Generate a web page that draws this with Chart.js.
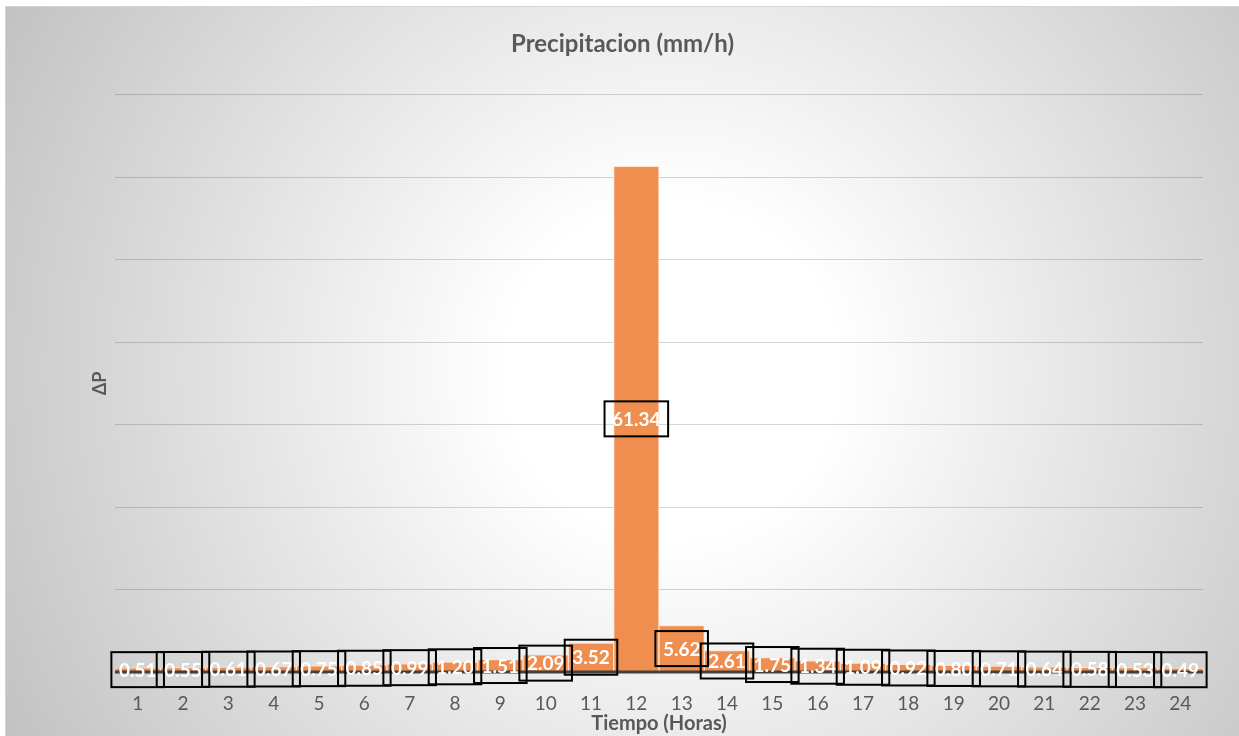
<!DOCTYPE html>
<html>
<head>
<meta charset="utf-8">
<style>
  html, body { margin: 0; padding: 0; background: #fff; }
  #wrap {
    position: absolute; left: 5px; top: 6px;
    width: 1233px; height: 729px;
    border: 1px solid #d4d4d4;
    background: radial-gradient(circle farthest-corner at 54% 50%, #ffffff 0%, #ffffff 22%, #c2c2c2 100%);
  }
  canvas { display: block; }
</style>
</head>
<body>
<div id="wrap">
  <canvas id="precipChart" width="1233" height="729"></canvas>
</div>

<script src="https://cdn.jsdelivr.net/npm/chart.js"></script>
<script>
// horas y precipitacion (mm/h)
const horas = ['1','2','3','4','5','6','7','8','9','10','11','12','13','14','15','16','17','18','19','20','21','22','23','24'];
const precip = [0.51, 0.55, 0.61, 0.67, 0.75, 0.85, 0.99, 1.20, 1.51, 2.09, 3.52, 61.34,
                5.62, 2.61, 1.75, 1.34, 1.09, 0.92, 0.80, 0.71, 0.64, 0.58, 0.53, 0.49];
const yMax = 70;
const yStep = 10;

const FONT = 'Lato';

// baseline + boxed labels in the middle of each bar
const boxLabels = {
  id: 'boxLabels',
  afterDatasetsDraw(chart) {
    const { ctx, chartArea, scales } = chart;
    const y0 = scales.y.getPixelForValue(0);
    ctx.save();
    ctx.strokeStyle = '#404040';
    ctx.lineWidth = 3;
    ctx.beginPath();
    ctx.moveTo(chartArea.left, y0);
    ctx.lineTo(chartArea.right, y0);
    ctx.stroke();

    ctx.font = 'bold 19px ' + FONT;
    ctx.textAlign = 'center';
    ctx.textBaseline = 'middle';
    const meta = chart.getDatasetMeta(0);
    meta.data.forEach((bar, i) => {
      const txt = precip[i].toFixed(2);
      const cy = (bar.y + bar.base) / 2;
      const w = ctx.measureText(txt).width + 15;
      const h = 35;
      ctx.fillStyle = '#ffffff';
      ctx.fillText(txt, bar.x, cy + 1);
      ctx.strokeStyle = '#000000';
      ctx.lineWidth = 2;
      ctx.strokeRect(bar.x - w / 2, cy - h / 2, w, h);
    });
    ctx.restore();
  }
};

const ctx = document.getElementById('precipChart').getContext('2d');
new Chart(ctx, {
  type: 'bar',
  data: {
    labels: horas,
    datasets: [{
      data: precip,
      backgroundColor: '#ef8e4e',
      borderColor: 'rgba(255,225,205,0.9)',
      borderWidth: 1,
      barPercentage: 1,
      categoryPercentage: 1
    }]
  },
  plugins: [boxLabels],
  options: {
    responsive: false,
    animation: false,
    devicePixelRatio: 1,
    plugins: {
      legend: { display: false },
      tooltip: { enabled: false },
      title: {
        display: true,
        text: 'Precipitacion (mm/h)',
        color: '#595959',
        font: { family: FONT, size: 24, weight: 'bold', lineHeight: 1.2 },
        padding: { top: 23, bottom: 36 }
      }
    },
    scales: {
      x: {
        grid: { display: false, drawTicks: false },
        border: { display: false },
        ticks: {
          color: '#595959',
          font: { family: FONT, size: 19 },
          padding: 20,
          maxRotation: 0
        },
        title: {
          display: true,
          text: 'Tiempo (Horas)',
          color: '#595959',
          font: { family: FONT, size: 20, weight: 'bold', lineHeight: 1.2 },
          padding: { top: 0, bottom: 0 }
        },
        afterFit(scale) { scale.height = 64; }
      },
      y: {
        min: 0,
        max: yMax,
        ticks: { display: false, stepSize: yStep },
        grid: { color: 'rgba(0,0,0,0.16)', lineWidth: 1, drawTicks: false },
        border: { display: false },
        title: {
          display: true,
          text: 'ΔP',
          color: '#595959',
          font: { family: FONT, size: 18, weight: 'bold', lineHeight: 1.2 },
          padding: { top: 83, bottom: 0 }
        },
        afterFit(scale) { scale.width = 109; }
      },
      // empty right margin so the title stays centred on the whole chart
      yRight: {
        type: 'linear',
        position: 'right',
        ticks: { display: false },
        grid: { display: false, drawTicks: false },
        border: { display: false },
        afterFit(scale) { scale.width = 36; }
      }
    }
  }
});
</script>
</body>
</html>
